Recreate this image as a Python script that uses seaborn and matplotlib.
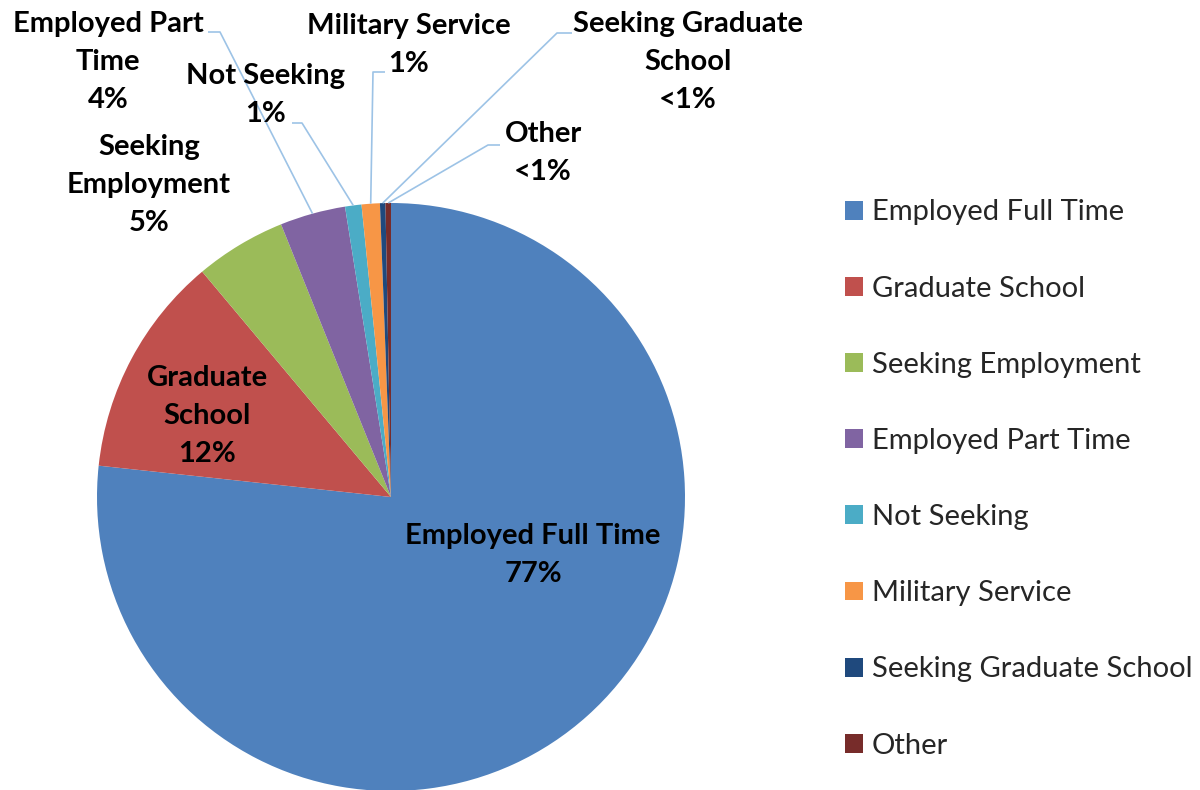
import matplotlib
matplotlib.use("Agg")
import matplotlib.pyplot as plt
import seaborn as sns
import numpy as np

categories = ["Employed Full Time", "Graduate School", "Seeking Employment",
              "Employed Part Time", "Not Seeking", "Military Service",
              "Seeking Graduate School", "Other"]
shares = [76.7, 12.2, 5.0, 3.6, 0.9, 1.0, 0.3, 0.3]
pct_labels = ["77%", "12%", "5%", "4%", "1%", "1%", "<1%", "<1%"]
label_text = ["Employed Full Time", "Graduate\nSchool", "Seeking\nEmployment",
              "Employed Part\nTime", "Not Seeking", "Military Service",
              "Seeking Graduate\nSchool", "Other"]
colors = ["#4F81BD", "#C0504D", "#9BBB59", "#8064A2",
          "#4BACC6", "#F79646", "#1F497D", "#772C2A"]

sns.set_theme(style="white")
plt.rcParams["font.family"] = ["Lato", "DejaVu Sans"]

fig = plt.figure(figsize=(12, 7.9), dpi=100)
ax = fig.add_axes([0, 0, 1, 1])

wedges, _ = ax.pie(shares, colors=colors, startangle=90, counterclock=False,
                   radius=1, center=(0, 0), wedgeprops=dict(linewidth=0))

# pixel -> data helper (center at 391,497 px, radius 294 px)
def px(x, y):
    return ((x - 391) / 294, (497 - y) / 294)

ax.set_xlim(-391 / 294, (1200 - 391) / 294)
ax.set_ylim(-(790 - 497) / 294, 497 / 294)
ax.set_aspect("auto")
ax.axis("off")

# label placement (text center) and leader line elbows/ends in pixel space
label_pos = [(533, 555), (207, 416), (149, 185), (108, 62),
             (266, 95), (409, 45), (688, 62), (543, 153)]
leaders = {
    3: [(220, 32), (208, 32)],
    4: [(302, 123), (292, 123)],
    5: [(373, 72), (385, 72)],
    6: [(557, 33), (572, 33)],
    7: [(488, 145), (500, 145)],
}

angles = 90 - 360 * (np.cumsum(shares) - np.array(shares) / 2) / 100.0

for i, (txt, pct) in enumerate(zip(label_text, pct_labels)):
    x, y = px(*label_pos[i])
    ax.text(x, y, f"{txt}\n{pct}", ha="center", va="center",
            fontsize=21, fontweight="bold", color="black", linespacing=1.56)
    if i in leaders:
        a = np.deg2rad(angles[i])
        pts = [(np.cos(a), np.sin(a))] + [px(*p) for p in leaders[i]]
        xs, ys = zip(*pts)
        ax.plot(xs, ys, color="#9DC3E6", lw=1.2, solid_capstyle="butt")

leg = ax.legend(wedges, categories, loc="center left",
                bbox_to_anchor=(845 / 1200, 1 - 479 / 790),
                bbox_transform=fig.transFigure, frameon=False,
                fontsize=21, handlelength=0.62, handleheight=0.62,
                handletextpad=0.3, labelspacing=1.72, borderpad=0,
                borderaxespad=0)

fig.savefig("out.png", dpi=100)
